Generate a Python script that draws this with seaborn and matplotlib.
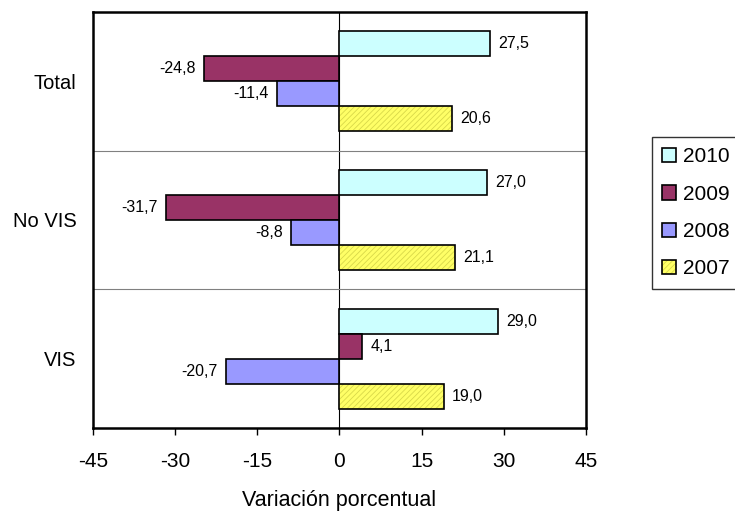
import matplotlib
matplotlib.use("Agg")
import matplotlib.pyplot as plt
import seaborn as sns
import pandas as pd
from matplotlib.patches import Patch, Rectangle
from matplotlib.legend_handler import HandlerTuple

categories = ["Total", "No VIS", "VIS"]
years = ["2010", "2009", "2008", "2007"]
v2010 = [27.5, 27.0, 29.0]
v2009 = [-24.8, -31.7, 4.1]
v2008 = [-11.4, -8.8, -20.7]
v2007 = [20.6, 21.1, 19.0]
xticks = [-45, -30, -15, 0, 15, 30, 45]

colors = {"2010": "#CCFFFF", "2009": "#993366", "2008": "#9999FF", "2007": "#FFFF66"}
HATCH = "//////"
HATCH_COLOR = "#D8D84A"

rows = []
for yr, vals in zip(years, [v2010, v2009, v2008, v2007]):
    for c, v in zip(categories, vals):
        rows.append({"cat": c, "year": yr, "val": v})
df = pd.DataFrame(rows)

sns.set_theme(style="white")
plt.rcParams["font.family"] = ["Liberation Sans", "DejaVu Sans"]
plt.rcParams["hatch.linewidth"] = 0.6
plt.rcParams["text.color"] = "black"
plt.rcParams["axes.labelcolor"] = "black"
plt.rcParams["xtick.color"] = "black"
plt.rcParams["ytick.color"] = "black"

fig = plt.figure(figsize=(7.35, 5.13), dpi=100)
ax = fig.add_axes([0.1265, 0.1657, 0.6707, 0.811])

sns.barplot(data=df, y="cat", x="val", hue="year", order=categories,
            hue_order=years, palette=colors, orient="h", width=0.72,
            edgecolor="black", linewidth=1.2, saturation=1, ax=ax, legend=False)

for cont, yr in zip(ax.containers, years):
    if yr == "2007":
        for p in cont:
            p.set_hatch(HATCH)
            p.set_edgecolor(HATCH_COLOR)
            p.set_linewidth(0)
            ax.add_patch(Rectangle(p.get_xy(), p.get_width(), p.get_height(),
                                   fill=False, edgecolor="black", linewidth=1.2,
                                   zorder=p.get_zorder() + 0.1))
    ax.bar_label(cont, labels=[f"{v:.1f}".replace(".", ",") for v in cont.datavalues],
                 padding=6, fontsize=11.5, color="black")

ax.set_xlim(-45, 45)
ax.set_ylim(2.5, -0.5)
ax.set_xticks(xticks)
ax.set_xticklabels([str(t) for t in xticks], fontsize=15)
ax.tick_params(axis="x", direction="out", length=5, width=1, color="black",
               labelcolor="black", pad=12, bottom=True)
ax.tick_params(axis="y", length=0, labelsize=14.5, labelcolor="black", pad=12)
ax.set_ylabel("")
ax.set_xlabel("Variación porcentual", fontsize=15.5, labelpad=14, color="black")

ax.axvline(0, color="black", linewidth=0.8, zorder=0.5)
for yb in [0.5, 1.5]:
    ax.axhline(yb, color="#808080", linewidth=0.8, zorder=0.5)

for s in ax.spines.values():
    s.set_color("black")
    s.set_linewidth(1.8)
    s.set_visible(True)

handles = []
for y in years:
    if y == "2007":
        h1 = Patch(facecolor=colors[y], edgecolor=HATCH_COLOR, linewidth=0, hatch=HATCH)
        h2 = Patch(facecolor="none", edgecolor="black", linewidth=1.2)
        handles.append((h1, h2))
    else:
        handles.append(Patch(facecolor=colors[y], edgecolor="black", linewidth=1.2))
leg = fig.legend(handles, years, loc="upper left", bbox_to_anchor=(0.887, 0.733),
                 fontsize=15, frameon=True, fancybox=False, edgecolor="black",
                 handlelength=0.67, handleheight=0.67, handletextpad=0.34,
                 labelspacing=0.88, borderpad=0.5, borderaxespad=0,
                 handler_map={tuple: HandlerTuple(ndivide=1)})
leg.get_frame().set_linewidth(1.0)
for t in leg.get_texts():
    t.set_color("black")

fig.savefig("out.png", dpi=100)
